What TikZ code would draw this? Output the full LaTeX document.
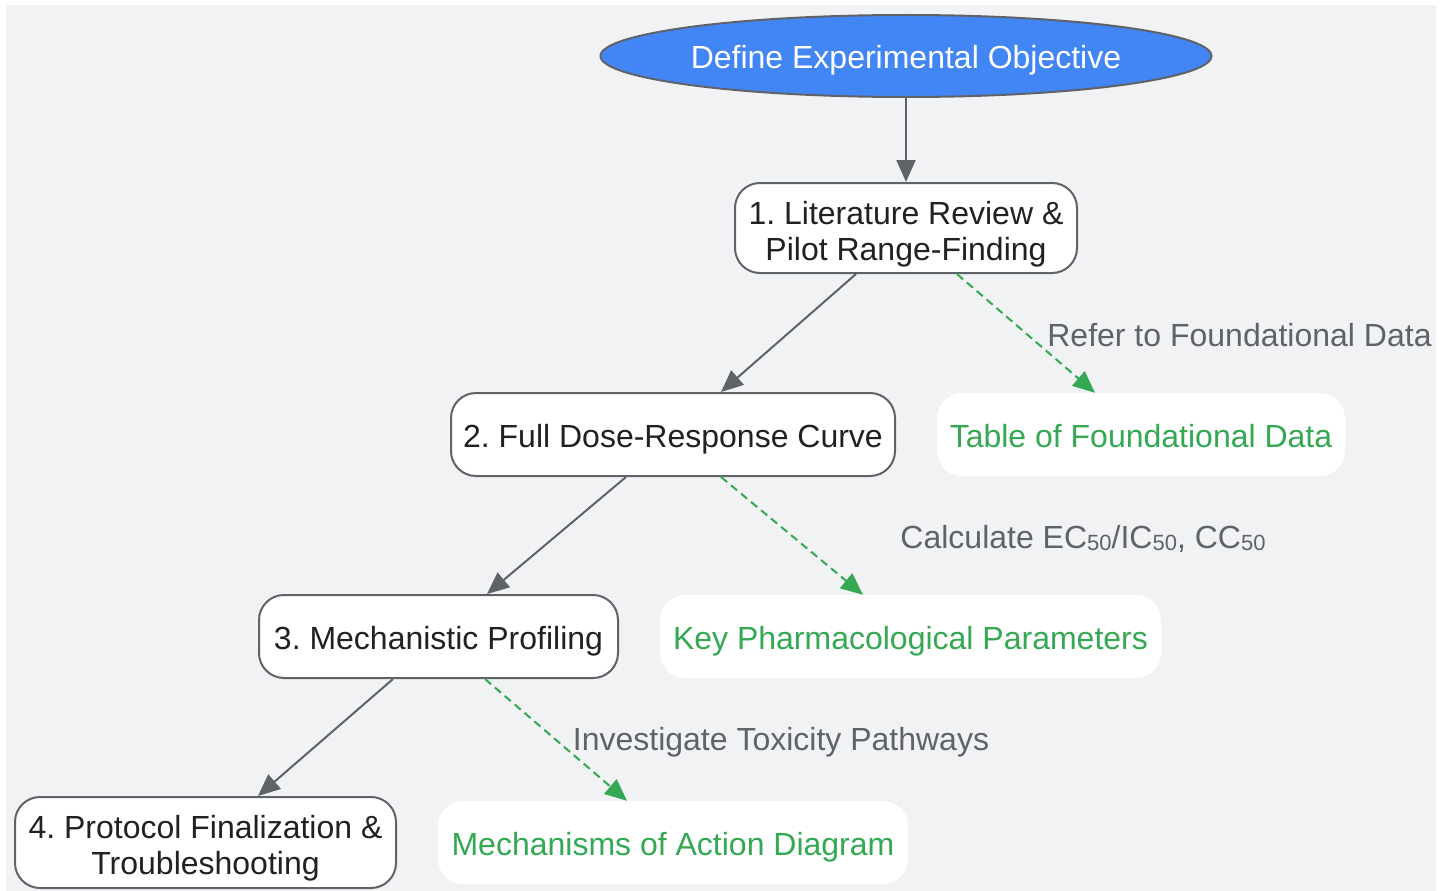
\documentclass[tikz,border=0pt]{standalone}
\usepackage{fontspec}
\setmainfont{Liberation Sans}
\usetikzlibrary{shapes.geometric,arrows.meta,calc}
\frenchspacing
\definecolor{bgc}{HTML}{F1F2F4}
\definecolor{edgec}{HTML}{5F6368}
\definecolor{txtc}{HTML}{202124}
\definecolor{grn}{HTML}{34A853}
\definecolor{blu}{HTML}{4285F4}
\newcommand\subfifty{\raisebox{-1.5pt}{\fontsize{22}{22}\selectfont 50}}
\newcommand\topstrut{\rule{0pt}{35.5pt}}
\begin{document}
\begin{tikzpicture}[x=1pt,y=-1pt,
  every node/.style={inner sep=0pt,font=\fontsize{32}{36}\selectfont,align=center},
  boxstrut/.style={execute at begin node={\rule[-7pt]{0pt}{39pt}}},
  stepbox/.style={boxstrut,draw=edgec,line width=2pt,fill=white,rounded corners=25pt,text=txtc},
  outbox/.style={boxstrut,fill=white,rounded corners=25pt,text=grn},
  lbl/.style={text=edgec,execute at begin node={\rule[-7pt]{0pt}{37pt}}},
  flow/.style={draw=edgec,line width=2pt,-{Triangle[length=22pt,width=19pt]}},
  ref/.style={draw=grn,line width=2pt,dash pattern=on 8pt off 5pt,-{Triangle[length=22pt,width=19pt]}}
]
\useasboundingbox (0,0) rectangle (1451,891);
\fill[bgc] (6,5) rectangle (1436,891);

\node[boxstrut,ellipse,draw=edgec,line width=2pt,fill=blu,text=white,minimum width=611pt,minimum height=82pt] (obj) at (906,56) {Define Experimental Objective};

\node[stepbox,minimum width=342pt,minimum height=90pt] (n1) at (906,228) {\topstrut1. Literature Review \&\\Pilot Range-Finding};
\node[stepbox,minimum width=444pt,minimum height=83pt] (n2) at (673,434.5) {2. Full Dose-Response Curve};
\node[stepbox,minimum width=359pt,minimum height=83pt] (n3) at (438.5,636.5) {3. Mechanistic Profiling};
\node[stepbox,minimum width=381pt,minimum height=91pt] (n4) at (205.5,842.5) {\topstrut4. Protocol Finalization \&\\Troubleshooting};

\node[outbox,minimum width=408pt,minimum height=83pt] (tab) at (1141,434.5) {Table of Foundational Data};
\node[outbox,minimum width=501pt,minimum height=83pt] (key) at (910.5,636.5) {Key Pharmacological Parameters};
\node[outbox,minimum width=470pt,minimum height=83pt] (mech) at (673,842.5) {Mechanisms of Action Diagram};

\draw[flow] (obj.south) -- (n1.north);
\draw[flow] ([xshift=-50pt]n1.south) -- ([xshift=48pt]n2.north);
\draw[flow] ([xshift=-47pt]n2.south) -- ([xshift=48.5pt]n3.north);
\draw[flow] ([xshift=-45.5pt]n3.south) -- ([xshift=52.5pt]n4.north);

\draw[ref] ([xshift=51pt]n1.south) -- ([xshift=-46pt]tab.north);
\draw[ref] ([xshift=48pt]n2.south) -- ([xshift=-47.5pt]key.north);
\draw[ref] ([xshift=46.5pt]n3.south) -- ([xshift=-46pt]mech.north);

\node[lbl] (l1) at (1239.5,335) {Refer to Foundational Data};
\node[lbl] (l2) at (1083,537) {Calculate EC\subfifty/IC\subfifty, CC\subfifty};
\node[lbl] (l3) at (781,739) {Investigate Toxicity Pathways};
\end{tikzpicture}
\end{document}
